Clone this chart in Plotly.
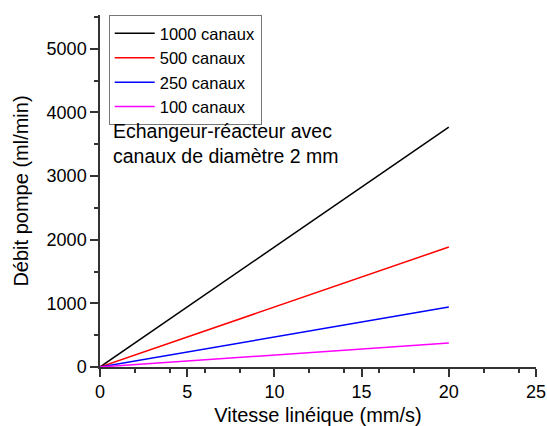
import plotly.graph_objects as go

# Data
series_names = ["1000 canaux", "500 canaux", "250 canaux", "100 canaux"]
series_colors = ["#000000", "#ff0000", "#0000ff", "#ff00ff"]
x_1000 = [0, 2.65, 12.0, 20]
y_1000 = [0, 500, 2262, 3770]
x_500 = [0, 5.3, 20]
y_500 = [0, 500, 1885]
x_250 = [0, 10.6, 20]
y_250 = [0, 500, 942]
x_100 = [0, 20]
y_100 = [0, 377]

xs = [x_1000, x_500, x_250, x_100]
ys = [y_1000, y_500, y_250, y_100]

x_ticks = [0, 5, 10, 15, 20, 25]
y_ticks = [0, 1000, 2000, 3000, 4000, 5000]

FONT = "Liberation Sans, Arial, sans-serif"

fig = go.Figure()
for name, color, x, y in zip(series_names, series_colors, xs, ys):
    fig.add_trace(go.Scatter(x=x, y=y, mode="lines", name=name,
                             line=dict(color=color, width=1.5)))

axis_common = dict(
    showline=True, linecolor="#333333", linewidth=1.5,
    ticks="outside", ticklen=8, tickwidth=1.5, tickcolor="#333333",
    showgrid=False, zeroline=False, mirror=False, automargin=False,
    tickfont=dict(family=FONT, size=18, color="#000000"),
    minor=dict(ticks="outside", ticklen=4, tickwidth=1.5, tickcolor="#333333"),
)

fig.update_xaxes(range=[0, 25], tickvals=x_ticks,
                 title=dict(text="Vitesse linéique (mm/s)", standoff=22,
                            font=dict(family=FONT, size=20, color="#000000")),
                 **axis_common)
fig.update_yaxes(range=[0, 5530], tickvals=y_ticks,
                 title=dict(text="Débit pompe (ml/min)", standoff=13,
                            font=dict(family=FONT, size=20, color="#000000")),
                 **axis_common)

fig.add_annotation(xref="paper", yref="paper", x=0.025, y=0.635,
                   xanchor="left", yanchor="middle", align="left", showarrow=False,
                   text="Echangeur-réacteur avec<br>canaux de diamètre 2 mm",
                   font=dict(family=FONT, size=19.5, color="#000000"))

fig.update_layout(
    width=547, height=426,
    margin=dict(l=100, r=11, t=15, b=59),
    paper_bgcolor="white", plot_bgcolor="white",
    showlegend=True,
    legend=dict(x=0.02, y=1.0, xanchor="left", yanchor="top",
                bgcolor="white", bordercolor="#777777", borderwidth=1,
                font=dict(family=FONT, size=16.5, color="#000000"),
                tracegroupgap=0, itemwidth=40),
)

fig.write_html("out.html", config={"displayModeBar": False},
               post_script="document.body.style.margin='0';document.body.style.padding='0';")
